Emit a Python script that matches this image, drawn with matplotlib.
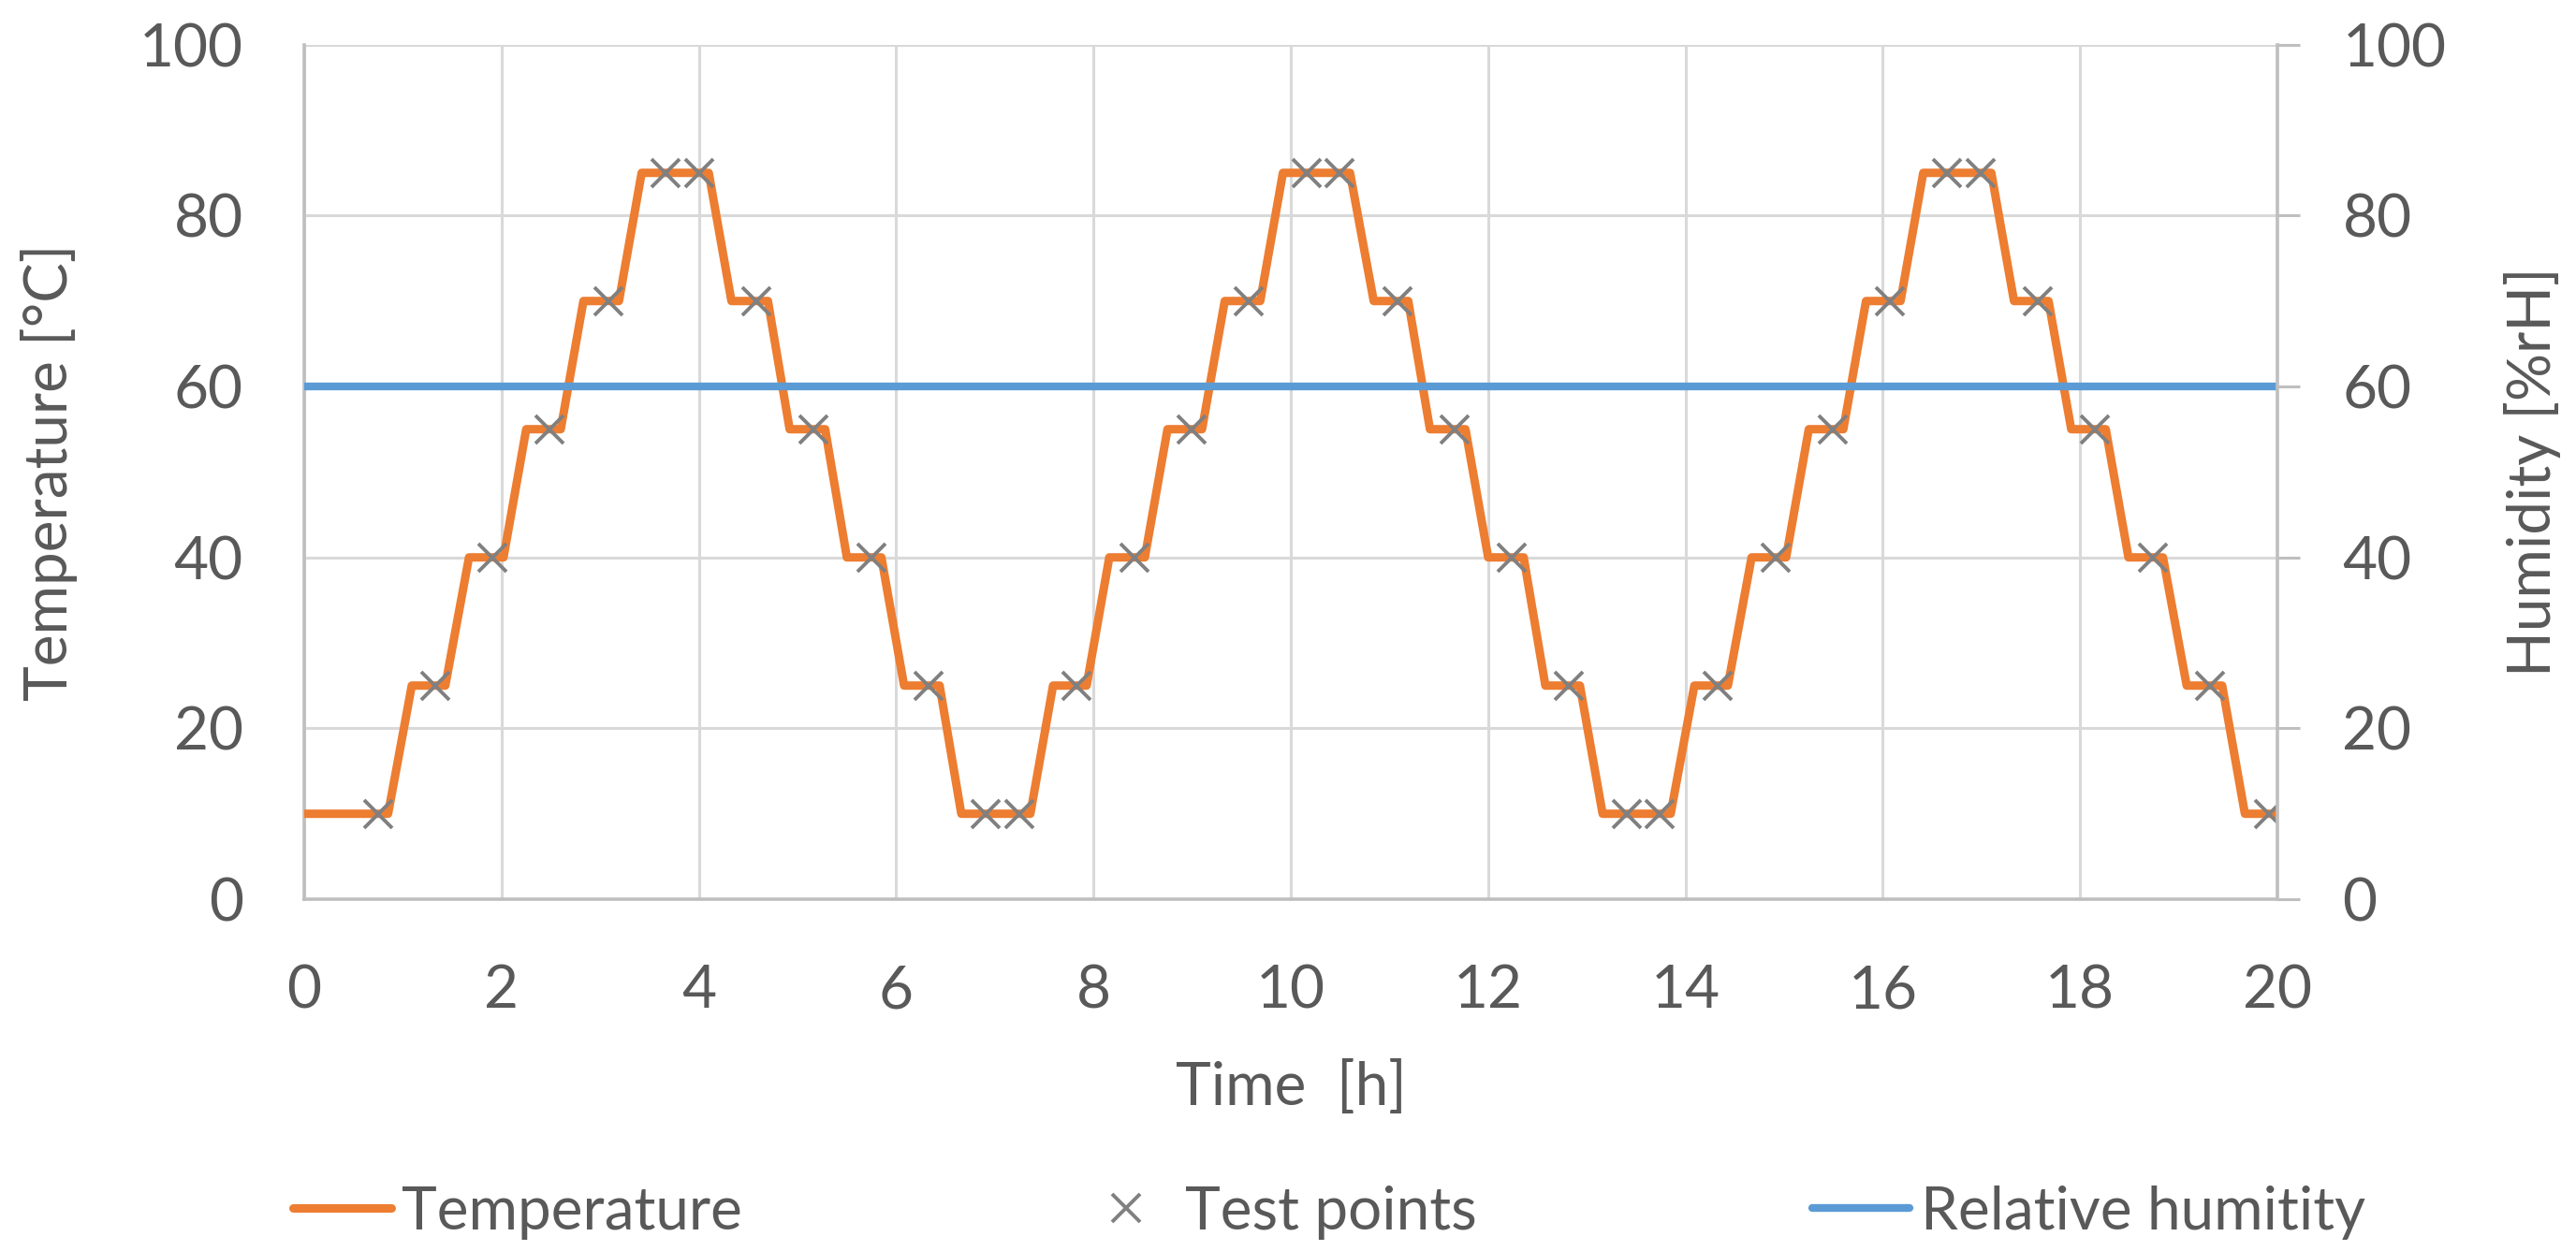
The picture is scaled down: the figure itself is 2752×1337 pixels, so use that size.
import matplotlib
matplotlib.use('Agg')
import matplotlib.pyplot as plt

# temperature profile breakpoints (time [h], temperature [degC])
temp_time = [0, 0.85, 1.09, 1.43, 1.67, 2.02, 2.25, 2.6, 2.83, 3.19, 3.42, 4.1,
             4.33, 4.7, 4.92, 5.28, 5.5, 5.85, 6.08, 6.44, 6.66, 7.36,
             7.59, 7.93, 8.16, 8.52, 8.75, 9.1, 9.33, 9.69, 9.92, 10.6,
             10.84, 11.19, 11.41, 11.77, 12.0, 12.36, 12.58, 12.93, 13.16, 13.85,
             14.09, 14.43, 14.67, 15.02, 15.25, 15.6, 15.83, 16.18, 16.41, 17.1,
             17.33, 17.68, 17.91, 18.26, 18.49, 18.84, 19.08, 19.44, 19.67, 20.0]
temp_value = [10, 10, 25, 25, 40, 40, 55, 55, 70, 70, 85, 85,
              70, 70, 55, 55, 40, 40, 25, 25, 10, 10,
              25, 25, 40, 40, 55, 55, 70, 70, 85, 85,
              70, 70, 55, 55, 40, 40, 25, 25, 10, 10,
              25, 25, 40, 40, 55, 55, 70, 70, 85, 85,
              70, 70, 55, 55, 40, 40, 25, 25, 10, 10]

# test points
test_time = [0.75, 1.33, 1.91, 2.49, 3.08, 3.66, 4.0, 4.58, 5.16, 5.75, 6.33, 6.91,
             7.25, 7.83, 8.42, 8.99, 9.57, 10.16, 10.49, 11.08, 11.66, 12.24, 12.82, 13.41,
             13.74, 14.33, 14.91, 15.49, 16.07, 16.65, 16.99, 17.57, 18.15, 18.74, 19.32, 19.91]
test_value = [10, 25, 40, 55, 70, 85, 85, 70, 55, 40, 25, 10,
              10, 25, 40, 55, 70, 85, 85, 70, 55, 40, 25, 10,
              10, 25, 40, 55, 70, 85, 85, 70, 55, 40, 25, 10]

# relative humidity
hum_time = [0, 20]
hum_value = [60, 60]

x_ticks = list(range(0, 21, 2))
y_ticks = list(range(0, 101, 20))

text_col = '#595959'
axis_col = '#BFBFBF'
grid_col = '#D9D9D9'
fs = 46

plt.rcParams['font.family'] = ['Lato', 'DejaVu Sans']

fig = plt.figure(figsize=(27.52, 13.37), dpi=100)
ax = fig.add_axes([0.1181, 0.2812, 0.7660, 0.6831])
ax2 = ax.twinx()

ax.plot(temp_time, temp_value, color='#ED7D31', lw=6.5,
        solid_joinstyle='round', solid_capstyle='round',
        label='Temperature', zorder=3)
ax.plot(test_time, test_value, ls='none', marker='x', ms=21, mew=2.8,
        color='#808080', label='Test points', zorder=4)
ax2.plot(hum_time, hum_value, color='#5B9BD5', lw=6,
         solid_capstyle='round', label='Relative humitity')

ax.set_xlim(0, 20)
ax.set_ylim(0, 100)
ax2.set_ylim(0, 100)
ax.set_xticks(x_ticks)
ax.set_yticks(y_ticks)
ax2.set_yticks(y_ticks)

ax.grid(color=grid_col, lw=2.2)
ax.set_axisbelow(True)
for s in ['top', 'right']:
    ax.spines[s].set_visible(False)
for s in ['left', 'bottom']:
    ax.spines[s].set_color(axis_col)
    ax.spines[s].set_linewidth(2.6)
for s in ['top', 'left', 'bottom']:
    ax2.spines[s].set_visible(False)
ax2.spines['right'].set_color(axis_col)
ax2.spines['right'].set_linewidth(2.6)

ax.tick_params(axis='x', length=0, pad=50, labelsize=fs, labelcolor=text_col)
ax.tick_params(axis='y', length=0, pad=47, labelsize=fs, labelcolor=text_col)
ax2.tick_params(axis='y', length=17, width=2.2, color=axis_col, pad=33,
                labelsize=fs, labelcolor=text_col)

ax.set_xlabel('Time  [h]', fontsize=fs, color=text_col, labelpad=32)
ax.set_ylabel('Temperature [°C]', fontsize=fs, color=text_col, labelpad=47)
ax2.set_ylabel('Humidity [%rH]', fontsize=fs, color=text_col, labelpad=44)

h1, l1 = ax.get_legend_handles_labels()
h2, l2 = ax2.get_legend_handles_labels()
fig.legend(h1 + h2, l1 + l2, loc='center', bbox_to_anchor=(0.516, 0.031),
           ncol=3, frameon=False, fontsize=fs, labelcolor=text_col,
           handlelength=1.63, handletextpad=0.18, columnspacing=5.6)

fig.savefig('out.png', dpi=100)
